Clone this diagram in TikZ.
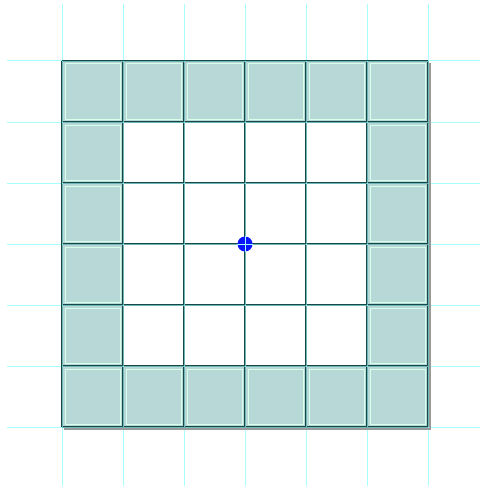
\documentclass[tikz,border=0pt]{standalone}
\usetikzlibrary{calc}
\definecolor{gridc}{HTML}{A8FFFF}
\definecolor{cellfill}{HTML}{B8D8D8}
\definecolor{cellrim}{HTML}{D8FFEA}
\definecolor{darkline}{HTML}{174848}
\definecolor{shadowc}{HTML}{9A9A9A}
\definecolor{dotc}{HTML}{0A14FF}
\tikzset{
  lightgrid/.style={draw=gridc, line width=1pt},
  centrecross/.style={draw=gridc, line width=0.5pt},
  cellline/.style={draw=darkline, line width=2.4pt},
  shadowline/.style={draw=shadowc, line width=1.5pt},
  centerdot/.style={circle, fill=dotc, inner sep=0pt, minimum size=15pt}
}
\begin{document}
\begin{tikzpicture}[x=1pt, y=-1pt]
\useasboundingbox (0,0) rectangle (480,487);
\fill[white] (0,0) rectangle (480,487);
% light grid outside the board
\foreach \k in {0,...,6}{
  \draw[lightgrid] ({62+61*\k},4) -- ({62+61*\k},486);
  \draw[lightgrid] (7,{61+61*\k}) -- (480,{61+61*\k});
}
% filled border cells
\foreach \i in {0,...,5}{
  \foreach \j in {0,...,5}{
    \pgfmathtruncatemacro{\edge}{(\i==0 || \i==5 || \j==0 || \j==5) ? 1 : 0}
    \ifnum\edge=1
      \path[fill=cellfill] ({62+61*\i+1},{61+61*\j+1}) rectangle ({62+61*\i+60},{61+61*\j+60});
      \draw[draw=cellrim, line width=1pt] ({62+61*\i+3},{61+61*\j+3}) rectangle ({62+61*\i+58},{61+61*\j+58});
    \fi
  }
}
% shadow of outer border
\draw[shadowline] (430,63) -- (430,429) -- (64,429);
% dark cell lines
\foreach \k in {0,...,6}{
  \draw[cellline] ({62+61*\k},61) -- ({62+61*\k},427);
  \draw[cellline] (62,{61+61*\k}) -- (428,{61+61*\k});
}
% thin light core on the dark lines
\foreach \k in {0,...,6}{
  \draw[centrecross, draw opacity=0.6] ({62+61*\k},61) -- ({62+61*\k},427);
  \draw[centrecross, draw opacity=0.6] (62,{61+61*\k}) -- (428,{61+61*\k});
}
% center point
\node[centerdot] (c) at (245,244) {};
\draw[centrecross] ($(c.north)$) -- ($(c.south)$);
\draw[centrecross] ($(c.west)$) -- ($(c.east)$);
\end{tikzpicture}
\end{document}
